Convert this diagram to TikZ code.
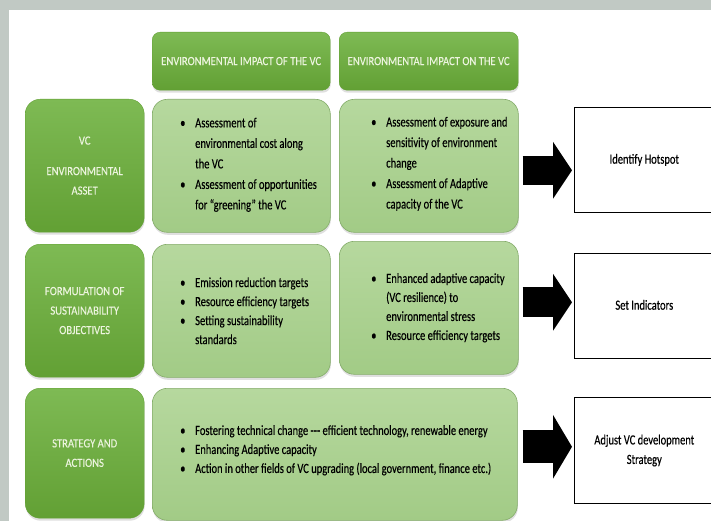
\documentclass[tikz,border=0pt]{standalone}
\usepackage{fontspec}
\setmainfont{Carlito}[FakeStretch=0.75, FakeBold=0.3]
\newfontfamily\capsfont{Carlito}[FakeStretch=0.85, FakeBold=0.2]
\usetikzlibrary{arrows.meta,shadows}

\definecolor{framegray}{RGB}{193,201,196}
\definecolor{darkgreentop}{RGB}{126,186,84}
\definecolor{darkgreenbot}{RGB}{98,160,52}
\definecolor{lightgreentop}{RGB}{182,216,158}
\definecolor{lightgreenbot}{RGB}{162,203,134}
\definecolor{lightgreenline}{RGB}{132,172,106}
\definecolor{captext}{RGB}{236,244,222}

\newcommand{\itemdot}{\makebox[15pt][l]{\textbullet}}
\newcommand{\itemgap}{\hspace*{15pt}}
\newcommand{\boxlines}[2][5pt]{\raisebox{#1}{\begin{tabular}{@{}c@{}}#2\end{tabular}}}

\tikzset{
  boxshadow/.style={drop shadow={opacity=0.25, shadow xshift=0.5pt, shadow yshift=-2.5pt}},
  headbox/.style={rounded corners=8pt, top color=darkgreentop, bottom color=darkgreenbot,
    draw=darkgreenbot, line width=0.4pt, text=captext, inner sep=0pt, anchor=north west,
    font=\capsfont\fontsize{12.5}{19.5}\selectfont, boxshadow},
  labelbox/.style={headbox, rounded corners=15pt},
  itembox/.style={rounded corners=15pt, top color=lightgreentop, bottom color=lightgreenbot,
    draw=lightgreenline, line width=0.6pt, inner sep=0pt, anchor=north west, boxshadow},
  itemtext/.style={font=\fontsize{14}{19}\selectfont, align=left, anchor=west, inner sep=0pt},
  widetext/.style={itemtext, font=\fontsize{14}{20.5}\selectfont},
  outbox/.style={draw=black, line width=0.6pt, fill=white, inner sep=0pt, anchor=north west,
    font=\fontsize{14}{19.5}\selectfont},
  blockarrow/.style={draw=black, line width=#1, line cap=butt},
}

\begin{document}
\begin{tikzpicture}[x=1pt, y=-1pt]
  \useasboundingbox (0,0) rectangle (711,521);
  % frame
  \fill[framegray] (0,0) rectangle (711,521);
  \fill[white] (9,10) rectangle (711,521);

  % column heads
  \node[headbox, minimum width=178pt, minimum height=58pt] (h1) at (152,32)
    {\boxlines[4pt]{ENVIRONMENTAL IMPACT OF THE VC}};
  \node[headbox, minimum width=179pt, minimum height=58pt] (h2) at (339,32)
    {\boxlines[4pt]{ENVIRONMENTAL IMPACT ON THE VC}};

  % row 1
  \node[labelbox, minimum width=119pt, minimum height=133pt] (l1) at (25,99)
    {\boxlines{VC\\[11pt] ENVIRONMENTAL\\ ASSET}};
  \node[itembox, minimum width=178pt, minimum height=133pt] (c11) at (152,99) {};
  \node[itembox, minimum width=179pt, minimum height=133pt] (c12) at (339,99) {};
  \node[widetext] (t11) at ([shift={(28,-1)}]c11.west)
    {\itemdot Assessment of\\ \itemgap environmental cost along\\ \itemgap the VC\\
     \itemdot Assessment of opportunities\\ \itemgap for “greening” the VC};
  \node[widetext] (t12) at ([shift={(32,-2)}]c12.west)
    {\itemdot Assessment of exposure and\\ \itemgap sensitivity of environment\\ \itemgap change\\
     \itemdot Assessment of Adaptive\\ \itemgap capacity of the VC};
  \node[outbox, minimum width=140pt, minimum height=105pt] (r1) at (574,107)
    {\boxlines{Identify Hotspot}};

  % row 2
  \node[labelbox, minimum width=119pt, minimum height=133pt] (l2) at (25,244)
    {\boxlines{FORMULATION OF\\ SUSTAINABILITY\\ OBJECTIVES}};
  \node[itembox, minimum width=178pt, minimum height=133pt] (c21) at (152,244) {};
  \node[itembox, minimum width=179pt, minimum height=133pt] (c22) at (339,241) {};
  \node[itemtext] (t21) at ([shift={(28,0)}]c21.west)
    {\itemdot Emission reduction targets\\ \itemdot Resource efficiency targets\\
     \itemdot Setting sustainability\\ \itemgap standards};
  \node[itemtext] (t22) at ([shift={(32,0)}]c22.west)
    {\itemdot Enhanced adaptive capacity\\ \itemgap (VC resilience) to\\
     \itemgap environmental stress\\ \itemdot Resource efficiency targets};
  \node[outbox, minimum width=140pt, minimum height=105pt] (r2) at (574,253)
    {\boxlines[3pt]{Set Indicators}};

  % row 3
  \node[labelbox, minimum width=119pt, minimum height=130pt] (l3) at (25,388)
    {\boxlines{STRATEGY AND\\ ACTIONS}};
  \node[itembox, minimum width=365pt, minimum height=132pt] (c3) at (152,388) {};
  \node[itemtext] (t3) at ([shift={(28,-4)}]c3.west)
    {\itemdot Fostering technical change {-}{-}{-} efficient technology, renewable energy\\
     \itemdot Enhancing Adaptive capacity\\
     \itemdot Action in other fields of VC upgrading (local government, finance etc.)};
  \node[outbox, minimum width=140pt, minimum height=106pt] (r3) at (574,397)
    {\boxlines[6pt]{Adjust VC development\\ Strategy}};

  % block arrows
  \draw[blockarrow=29pt, -{Triangle[width=56pt,length=19pt]}]
    ([shift={(4,4.5)}]c12.east) -- ([shift={(-2,10.5)}]r1.west);
  \draw[blockarrow=30pt, -{Triangle[width=56pt,length=19pt]}]
    ([shift={(4,-5.5)}]c22.east) -- ([shift={(-2,-3.5)}]r2.west);
  \draw[blockarrow=33pt, -{Triangle[width=63pt,length=19pt]}]
    ([shift={(5,-7.5)}]c3.east) -- ([shift={(-2,-3.5)}]r3.west);
\end{tikzpicture}
\end{document}
